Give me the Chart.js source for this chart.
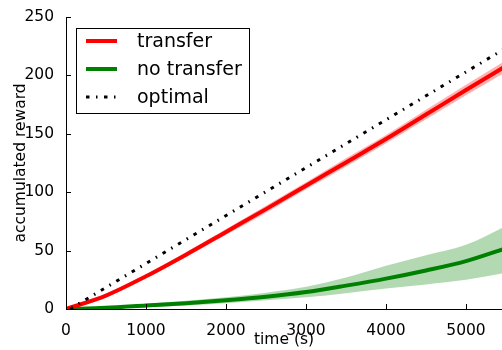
<!DOCTYPE html>
<html>
<head>
<meta charset="utf-8">
<script src="https://cdn.jsdelivr.net/npm/chart.js@4.4.1/dist/chart.umd.min.js"></script>
<style>
  html, body { margin: 0; padding: 0; background: #fff; }
  #c { display: block; }
</style>
</head>
<body>
<canvas id="c" width="502" height="350"></canvas>
<script>
// time axis (s)
const times = [0, 500, 1000, 1500, 2000, 2500, 3000, 3500, 4000, 4500, 5000, 5500];

// transfer: mean and band
const transferMean = [0, 11.5, 28, 46.5, 66, 85.5, 105.5, 125.5, 145.5, 166.5, 187.5, 208];
const transferHi   = [0, 12.5, 29.5, 48.5, 68.5, 88.5, 108.5, 129, 149, 170.5, 192, 213];
const transferLo   = [0, 10.5, 26.5, 44.5, 63.5, 82.5, 102.5, 122, 142, 162.5, 183, 203];

// no transfer: mean and band
const noTransferMean = [0, 1, 3, 5, 7.5, 10.5, 14.5, 20, 26, 33, 41, 52];
const noTransferHi   = [0, 1.8, 4.5, 7, 10, 14, 19, 27, 37, 46, 55, 71];
const noTransferLo   = [0, 0.3, 1.5, 3, 5, 7.5, 10, 13.5, 17.5, 21, 25, 31];

// optimal
const optimalTimes = [50, 5500];
const optimalVals  = [0, 223.5];

const xTicks = [0, 1000, 2000, 3000, 4000, 5000];
const yTicks = [0, 50, 100, 150, 200, 250];

const FONT = 'DejaVu Sans';
const pts = (xs, ys) => xs.map((x, i) => ({ x, y: ys[i] }));

const RED = '#ff0000', GREEN = '#008000';
const PINK = 'rgba(255,0,0,0.3)', LGREEN = 'rgba(0,128,0,0.3)';
const OPT_DASH = [3.5, 6.5, 1.5, 6.5];

const legendItems = [
  { label: 'transfer', color: RED, width: 4, dash: [] },
  { label: 'no transfer', color: GREEN, width: 4, dash: [] },
  { label: 'optimal', color: '#000', width: 3, dash: OPT_DASH },
];

const inwardTicks = {
  id: 'inwardTicks',
  afterDraw(chart) {
    const { ctx, chartArea: a, scales: { x, y } } = chart;
    ctx.save();
    ctx.strokeStyle = '#000';
    ctx.lineWidth = 1;
    ctx.beginPath();
    xTicks.forEach(v => {
      const px = Math.round(x.getPixelForValue(v)) + 0.5;
      ctx.moveTo(px, a.bottom); ctx.lineTo(px, a.bottom - 5);
    });
    yTicks.forEach(v => {
      const py = Math.round(y.getPixelForValue(v)) + 0.5;
      ctx.moveTo(a.left, py); ctx.lineTo(a.left + 5, py);
    });
    ctx.stroke();
    ctx.restore();
  }
};

const boxLegend = {
  id: 'boxLegend',
  afterDraw(chart) {
    const ctx = chart.ctx;
    ctx.save();
    ctx.fillStyle = '#fff';
    ctx.fillRect(76.5, 28.5, 173, 85);
    ctx.strokeStyle = '#000';
    ctx.lineWidth = 1;
    ctx.strokeRect(76.5, 28.5, 173, 85);
    const rows = [41, 69, 97];
    legendItems.forEach((it, i) => {
      ctx.beginPath();
      ctx.strokeStyle = it.color;
      ctx.lineWidth = it.width;
      ctx.setLineDash(it.dash);
      ctx.moveTo(86, rows[i]);
      ctx.lineTo(117, rows[i]);
      ctx.stroke();
      ctx.setLineDash([]);
      ctx.fillStyle = '#000';
      ctx.font = `19px "${FONT}"`;
      ctx.textBaseline = 'middle';
      ctx.fillText(it.label, 137, rows[i] + 1);
    });
    ctx.restore();
  }
};

new Chart(document.getElementById('c'), {
  type: 'line',
  data: {
    datasets: [
      { label: 'optimal', data: pts(optimalTimes, optimalVals), borderColor: '#000', borderWidth: 3,
        borderDash: OPT_DASH, borderCapStyle: 'butt', pointRadius: 0, fill: false, order: 0 },
      { label: 'transfer', data: pts(times, transferMean), borderColor: RED, borderWidth: 4,
        pointRadius: 0, fill: false, cubicInterpolationMode: 'monotone', order: 1 },
      { label: 'no transfer', data: pts(times, noTransferMean), borderColor: GREEN, borderWidth: 4,
        pointRadius: 0, fill: false, cubicInterpolationMode: 'monotone', order: 2 },
      { label: 'tLo', data: pts(times, transferLo), borderWidth: 0, borderColor: 'rgba(0,0,0,0)',
        pointRadius: 0, fill: false, cubicInterpolationMode: 'monotone', order: 3 },
      { label: 'tHi', data: pts(times, transferHi), borderWidth: 0, borderColor: 'rgba(0,0,0,0)',
        backgroundColor: PINK, pointRadius: 0, fill: '-1', cubicInterpolationMode: 'monotone', order: 3 },
      { label: 'nLo', data: pts(times, noTransferLo), borderWidth: 0, borderColor: 'rgba(0,0,0,0)',
        pointRadius: 0, fill: false, cubicInterpolationMode: 'monotone', order: 4 },
      { label: 'nHi', data: pts(times, noTransferHi), borderWidth: 0, borderColor: 'rgba(0,0,0,0)',
        backgroundColor: LGREEN, pointRadius: 0, fill: '-1', cubicInterpolationMode: 'monotone', order: 4 },
    ]
  },
  options: {
    responsive: false,
    animation: false,
    devicePixelRatio: 1,
    layout: { padding: { top: 17, right: 0, left: 0, bottom: 0 } },
    plugins: { legend: { display: false }, tooltip: { enabled: false } },
    scales: {
      x: {
        type: 'linear', min: 0, max: 5450,
        grid: { display: false },
        border: { display: true, color: '#000', width: 1 },
        ticks: { color: '#000', font: { family: FONT, size: 15.5 }, padding: 5, maxRotation: 0,
                 callback: v => String(v) },
        title: { display: true, text: 'time (s)', color: '#000', font: { family: FONT, size: 15.5 }, padding: { top: 0, bottom: 1 } },
        afterBuildTicks: s => { s.ticks = xTicks.map(v => ({ value: v })); },
        afterFit: s => { s.height = 41; }
      },
      y: {
        type: 'linear', min: 0, max: 250,
        grid: { display: false },
        border: { display: true, color: '#000', width: 1 },
        ticks: { color: '#000', font: { family: FONT, size: 15.5 }, padding: 4, callback: v => String(v) },
        title: { display: true, text: 'accumulated reward', color: '#000', font: { family: FONT, size: 15.5 }, padding: { top: 11.5, bottom: 0 } },
        afterBuildTicks: s => { s.ticks = yTicks.map(v => ({ value: v })); },
        afterFit: s => { s.width = 66; }
      }
    }
  },
  plugins: [inwardTicks, boxLegend]
});
</script>
</body>
</html>
